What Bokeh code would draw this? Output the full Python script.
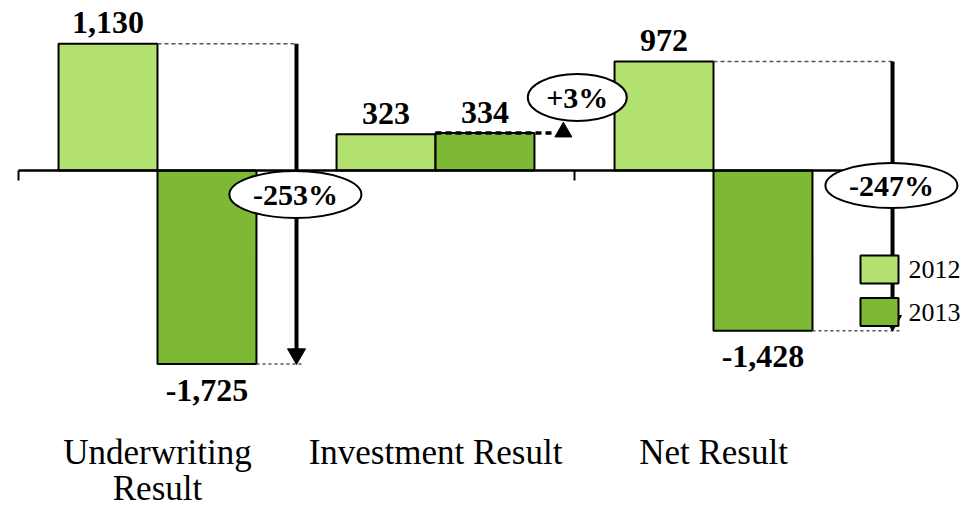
from bokeh.plotting import figure
from bokeh.models import ColumnDataSource, Range1d
from bokeh.core.properties import value
from bokeh.embed import file_html
from bokeh.resources import INLINE

# ---------------- data ----------------
categories = ["Underwriting\nResult", "Investment Result", "Net Result"]
values_2012 = [1130, 323, 972]
values_2013 = [-1725, 334, -1428]
change_labels = ["-253%", "+3%", "-247%"]
series_names = ["2012", "2013"]

# ---------------- layout / style ----------------
W, H = 979, 509
LIGHT = "#b2e170"
DARK = "#7eb935"
SERIF = value("Liberation Serif")
BAR_W = 0.356

GX = 278.0          # pixels per category
X_ORIG = 18.0       # page x of category 0 start
Y_ZERO = 170.0      # page y of value 0
SY = 0.1122         # pixels per value unit

X0, X1 = -X_ORIG / GX, (W - X_ORIG) / GX
Y1, Y0 = Y_ZERO / SY, -(H - Y_ZERO) / SY


def px(d):
    """vertical screen pixels -> data units"""
    return d / SY


def page_x(x):
    return (x - X_ORIG) / GX


def page_y(y):
    return (Y_ZERO - y) / SY


p = figure(width=W, height=H, x_range=Range1d(X0, X1), y_range=Range1d(Y0, Y1),
           output_backend="svg", toolbar_location=None, min_border=0,
           outline_line_color=None, background_fill_color="white")
p.axis.visible = False
p.grid.visible = False

n = len(categories)
centers = [i + 0.5 for i in range(n)]
x12 = [c - BAR_W / 2 for c in centers]
x13 = [c + BAR_W / 2 for c in centers]

src12 = ColumnDataSource(dict(x=x12, top=values_2012))
src13 = ColumnDataSource(dict(x=x13, top=values_2013))
r12 = p.vbar(x="x", top="top", bottom=0, width=BAR_W, source=src12,
             fill_color=LIGHT, line_color="black", line_width=2)
r13 = p.vbar(x="x", top="top", bottom=0, width=BAR_W, source=src13,
             fill_color=DARK, line_color="black", line_width=2)

# ---- category axis line with ticks ----
p.segment(x0=[0], y0=[0], x1=[n], y1=[0], line_color="black", line_width=2.5)
p.segment(x0=list(range(n + 1)), y0=[0] * (n + 1), x1=list(range(n + 1)),
          y1=[-px(10)] * (n + 1), line_color="black", line_width=2)

# ---- change annotations ----
arrow_x = [1.0, 1.96, 3.144]
# dashed reference lines
p.segment(x0=[centers[0], centers[2]], y0=[values_2012[0], values_2012[2]],
          x1=[arrow_x[0], arrow_x[2]], y1=[values_2012[0], values_2012[2]],
          line_color="#555555", line_width=1.5, line_dash="4 3")
p.segment(x0=[x13[0] + BAR_W / 2, x13[2] + BAR_W / 2],
          y0=[values_2013[0], values_2013[2]],
          x1=[arrow_x[0] + 0.02, arrow_x[2] + 0.03],
          y1=[values_2013[0], values_2013[2]],
          line_color="#555555", line_width=1.5, line_dash="3 3")
# vertical arrows
p.segment(x0=[arrow_x[0], arrow_x[2]], y0=[values_2012[0], values_2012[2]],
          x1=[arrow_x[0], arrow_x[2]],
          y1=[values_2013[0] + px(14), values_2013[2] + px(14)],
          line_color="black", line_width=4)
p.scatter(x=[arrow_x[0], arrow_x[2]],
          y=[values_2013[0] + px(10), values_2013[2] + px(10)],
          marker="inverted_triangle", size=18, fill_color="black", line_color="black")
# Investment: thick dashed line at 2013 level + small up arrow
p.segment(x0=[centers[1]], y0=[values_2013[1]], x1=[1.925], y1=[values_2013[1]],
          line_color="black", line_width=3.5, line_dash="6 4")
p.scatter(x=[arrow_x[1]], y=[values_2013[1] + px(1)], marker="triangle", size=17,
          fill_color="black", line_color="black")

# ellipses with percentage changes
ell_x = [arrow_x[0] - 0.004, 2.01, arrow_x[2] - 0.004]
ell_y = [-px(24), px(73), -px(15)]
ell_w = [132, 99, 132]
p.ellipse(x=ell_x, y=ell_y, width=ell_w, height=[47, 47, 45],
          width_units="screen", height_units="screen",
          fill_color="white", line_color="black", line_width=2)
p.text(x=ell_x, y=ell_y, text=change_labels, text_font=SERIF, text_font_style="bold",
       text_font_size="30px", text_align="center", text_baseline="middle",
       text_color="black")

# ---- value labels ----
vals = values_2012 + values_2013
lab_x = x12 + x13
lab_txt = [f"{v:,}" for v in vals]
offs = [-21 if v >= 0 else 26 for v in vals]
p.text(x="x", y="y", text="t", y_offset="o",
       source=ColumnDataSource(dict(x=lab_x, y=vals, t=lab_txt, o=offs)),
       text_font=SERIF, text_font_style="bold", text_font_size="32px",
       text_align="center", text_baseline="alphabetic", text_color="black")

# ---- category labels ----
p.text(x=centers, y=[-px(262)] * n, text=categories, text_font=SERIF,
       text_font_size="35px", text_align="center", text_baseline="top",
       text_line_height=0.93, text_color="black")

# ---- legend (drawn on top of the net-result arrow, like the original) ----
leg_x = page_x(879)
leg_y = [page_y(269), page_y(311.5)]
p.rect(x=[leg_x, leg_x], y=leg_y, width=38, height=28,
       width_units="screen", height_units="screen",
       fill_color=[LIGHT, DARK], line_color="black", line_width=2)
p.text(x=[page_x(908)] * 2, y=leg_y, text=series_names, text_font=SERIF,
       text_font_size="26px", text_align="left", text_baseline="middle",
       text_color="black")

open("out.html", "w").write(file_html(p, INLINE))
